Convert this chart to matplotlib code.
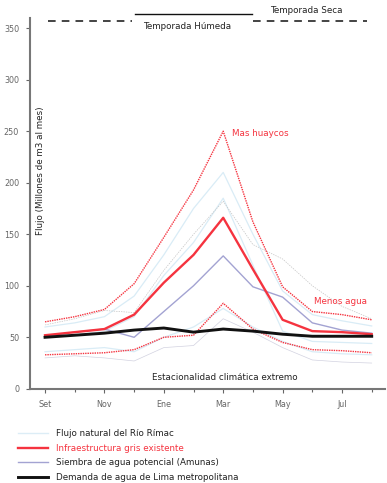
import matplotlib.pyplot as plt
import numpy as np
from matplotlib.lines import Line2D

# meses Set -> Ago
meses = ['Set', 'Oct', 'Nov', 'Dic', 'Ene', 'Feb', 'Mar', 'Abr', 'May', 'Jun', 'Jul', 'Ago']
x = np.arange(len(meses))

gris = [52, 55, 58, 72, 103, 130, 166, 116, 67, 56, 55, 53]
gris_alto = [65, 70, 77, 102, 147, 193, 250, 162, 99, 75, 72, 67]
gris_bajo = [33, 34, 35, 38, 50, 52, 83, 58, 45, 38, 37, 35]
amunas = [51, 55, 58, 50, 75, 100, 129, 99, 89, 64, 57, 54]
demanda = [50, 52, 54, 57, 59, 55, 58, 56, 53, 51, 51, 51]

# flujo natural (lineas tenues)
nat_a = [60, 64, 70, 90, 130, 175, 210, 150, 95, 72, 66, 61]
nat_b = [50, 52, 56, 70, 110, 142, 185, 120, 56, 46, 45, 44]
nat_c = [36, 38, 40, 36, 50, 60, 78, 60, 46, 36, 34, 33]
nat_gris_alto = [62, 68, 76, 74, 115, 150, 182, 140, 126, 100, 80, 68]
nat_gris_bajo = [30, 32, 30, 27, 40, 42, 68, 55, 40, 28, 26, 25]

rojo = '#f5333f'
fs = 6.3
plt.rcParams['font.family'] = ['DejaVu Sans']

fig = plt.figure(figsize=(3.87, 4.83), dpi=100)
ax = fig.add_axes([0.078, 0.195, 0.917, 0.768])

for s in [nat_a, nat_b, nat_c]:
    ax.plot(x, s, color='#d9ecf6', lw=0.9)
ax.plot(x, nat_gris_alto, color='#c4c4c4', lw=0.5, ls=(0, (2, 1.5)))
ax.plot(x, nat_gris_bajo, color='#d2d2e0', lw=0.5)

ax.plot(x, gris_alto, color=rojo, lw=1.0, ls=(0, (1, 0.7)))
ax.plot(x, gris_bajo, color=rojo, lw=1.0, ls=(0, (1, 0.7)))
ax.plot(x, amunas, color='#a3a3d2', lw=1.0)
ax.plot(x, gris, color=rojo, lw=1.7)
ax.plot(x, demanda, color='#111111', lw=2.1)

# temporadas
ax.plot([0.1, 2.93], [357, 357], color='#111111', lw=1.1, ls=(0, (5, 4)), clip_on=False)
ax.plot([3.03, 6.97], [364, 364], color='#111111', lw=1.0, clip_on=False)
ax.plot([7.0, 10.84], [357, 357], color='#111111', lw=1.1, ls=(0, (5, 4)), clip_on=False)
ax.text(4.78, 352, 'Temporada Húmeda', ha='center', va='center', fontsize=fs, color='#222222')
ax.text(8.8, 367, 'Temporada Seca', ha='center', va='center', fontsize=fs, color='#222222',
        clip_on=False)

ax.text(6.3, 248, 'Mas huaycos', ha='left', va='center', fontsize=fs, color=rojo)
ax.text(9.05, 85, 'Menos agua', ha='left', va='center', fontsize=fs, color=rojo)
ax.text(6.06, 11, 'Estacionalidad climática extremo', ha='center', va='center',
        fontsize=fs, color='#222222')
ax.text(-0.15, 212, 'Flujo (Millones de m3 al mes)', rotation=90, ha='center', va='center',
        fontsize=fs, color='#222222')

ax.set_xlim(-0.5, 11.45)
ax.set_ylim(0, 360)
ax.set_xticks(x[::2])
ax.set_xticklabels(meses[::2])
ax.set_xticks(x[1::2], minor=True)
ax.set_yticks(np.arange(0, 351, 50))
ax.tick_params(labelsize=5.8, colors='#666666', length=3, width=0.8, pad=5)
ax.tick_params(which='minor', length=2, width=0.8, colors='#666666')
for s in ['top', 'right']:
    ax.spines[s].set_visible(False)
for s in ['left', 'bottom']:
    ax.spines[s].set_color('#777777')
    ax.spines[s].set_linewidth(1.5)

handles = [
    Line2D([], [], color='#dcedf6', lw=1.0),
    Line2D([], [], color=rojo, lw=1.7),
    Line2D([], [], color='#a3a3d2', lw=1.0),
    Line2D([], [], color='#111111', lw=2.1),
]
labels = ['Flujo natural del Río Rímac', 'Infraestructura gris existente',
          'Siembra de agua potencial (Amunas)', 'Demanda de agua de Lima metropolitana']
leg = fig.legend(handles, labels, loc='upper left', bbox_to_anchor=(0.035, 0.12),
                 frameon=False, fontsize=fs, handlelength=3.4, handletextpad=0.9,
                 labelspacing=0.62, borderpad=0)
for t in leg.get_texts():
    t.set_color('#222222')
leg.get_texts()[1].set_color(rojo)

fig.savefig('out.png', dpi=100)
